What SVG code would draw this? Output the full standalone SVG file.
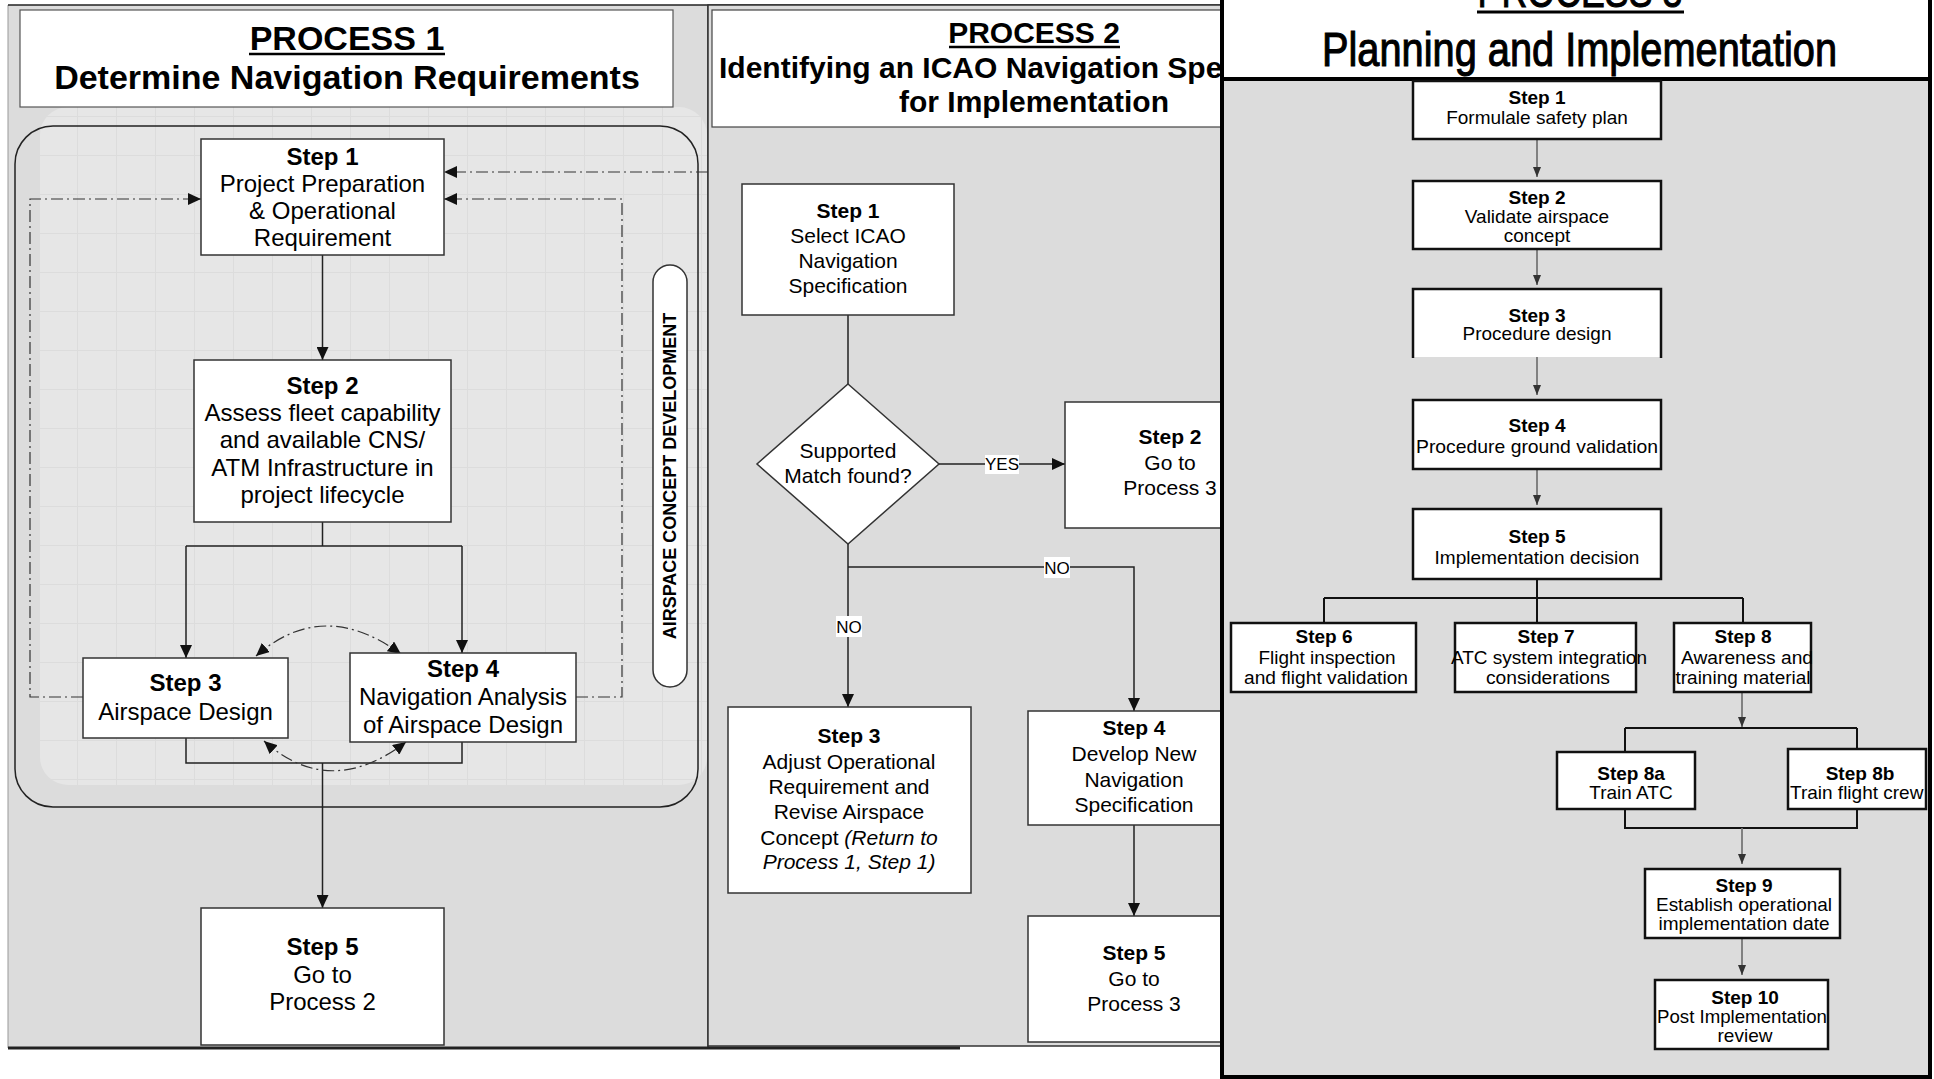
<svg xmlns="http://www.w3.org/2000/svg" width="1934" height="1079" viewBox="0 0 1934 1079">
<defs>
<style>
.t1{font-family:"Liberation Sans",Arial,sans-serif;font-size:24px;fill:#000;text-anchor:middle}
.t2{font-family:"Liberation Sans",Arial,sans-serif;font-size:21px;fill:#000;text-anchor:middle}
.t3{font-family:"Liberation Sans",Arial,sans-serif;font-size:19px;fill:#000;text-anchor:middle}
.s{font-size:17.5px}
.b{font-weight:bold}
.i{font-style:italic}
.lbl{font-family:"Liberation Sans",Arial,sans-serif;font-size:17px;fill:#000;text-anchor:middle}
.box1{fill:#fff;stroke:#333;stroke-width:1.5}
.box3{fill:#fff;stroke:#111;stroke-width:2.5}
.ln{fill:none;stroke:#222;stroke-width:1.5}
.dd{fill:none;stroke:#333;stroke-width:1.2;stroke-dasharray:12 4 2 4}
.gl{fill:none;stroke:#777;stroke-width:1.8}
.bl{fill:none;stroke:#111;stroke-width:2}
</style>
<marker id="ah" viewBox="0 0 13 12" refX="13" refY="6" markerWidth="13" markerHeight="12" markerUnits="userSpaceOnUse" orient="auto-start-reverse"><path d="M0,0 L13,6 L0,12 z" fill="#111"/></marker>
<marker id="as" viewBox="0 0 10 8" refX="10" refY="4" markerWidth="10" markerHeight="8" markerUnits="userSpaceOnUse" orient="auto"><path d="M0,0 L10,4 L0,8 z" fill="#333"/></marker>
<pattern id="grid" width="39" height="39" patternUnits="userSpaceOnUse"><rect width="39" height="39" fill="#e6e6e6"/><path d="M38.5 0 V39 M0 38.5 H39" stroke="#dcdcdc" stroke-width="1"/></pattern>
</defs>

<rect x="0" y="0" width="1934" height="1079" fill="#fff"/>

<!-- Process 1 panel -->
<g id="process1-panel">
<rect x="8" y="5" width="700" height="1043" fill="#dcdcdc"/>
<line x1="8" y1="5" x2="8" y2="1048" stroke="#999" stroke-width="1"/>
<line x1="8" y1="5" x2="1222" y2="5" stroke="#222" stroke-width="1.5"/>
<line x1="708" y1="5" x2="708" y2="1048" stroke="#333" stroke-width="1.5"/>
<rect x="40" y="107" width="667" height="678" rx="28" fill="url(#grid)"/>
<rect x="20" y="10" width="653" height="97" fill="#fff" stroke="#555" stroke-width="1.2"/>
<text class="t1 b" x="347" y="50" style="font-size:34px">PROCESS 1</text>
<line x1="249" y1="54" x2="445" y2="54" stroke="#000" stroke-width="2.5"/>
<text class="t1 b" x="347" y="89" style="font-size:34px">Determine Navigation Requirements</text>
<rect x="15" y="126" width="683" height="681" rx="38" fill="none" stroke="#222" stroke-width="1.5"/>
</g>

<g id="airspace-concept-label">
<rect x="653" y="265" width="34" height="422" rx="17" fill="#fff" stroke="#333" stroke-width="1.5"/>
<text class="t1 b" transform="translate(676,476) rotate(-90)" style="font-size:18px">AIRSPACE CONCEPT DEVELOPMENT</text>
</g>

<!-- Process 2 panel -->
<g id="process2-panel">
<rect x="708" y="5" width="514" height="1041" fill="#dcdcdc" stroke="#333" stroke-width="1.5"/>
<rect x="712" y="10" width="512" height="117" fill="#fff" stroke="#444" stroke-width="1.2"/>
<text class="t2 b" x="1034" y="43" style="font-size:30px">PROCESS 2</text>
<line x1="949" y1="47" x2="1120" y2="47" stroke="#000" stroke-width="2.5"/>
<text class="t2 b" x="719" y="78" style="font-size:30px;text-anchor:start">Identifying an ICAO Navigation Spe</text>
<text class="t2 b" x="1034" y="112" style="font-size:30px">for Implementation</text>
</g>
<line x1="8" y1="1048" x2="960" y2="1048" stroke="#222" stroke-width="3"/>

<!-- Connectors -->
<g id="connectors">
<path class="ln" d="M322.5 255 V360" marker-end="url(#ah)"/>
<path class="ln" d="M322.5 522 V546 M186 546 H462"/>
<path class="ln" d="M186 546 V658" marker-end="url(#ah)"/>
<path class="ln" d="M462 546 V653" marker-end="url(#ah)"/>
<path class="ln" d="M186 738 V763 H462 V742"/>
<path class="ln" d="M322.5 763 V908" marker-end="url(#ah)"/>
<path class="dd" d="M83 697 H30 V199 H201" marker-end="url(#ah)"/>
<path class="dd" d="M576 697 H622 V199 H444" marker-end="url(#ah)"/>
<path class="dd" d="M708 172 H444" marker-end="url(#ah)"/>
<path class="dd" d="M256 656 Q323 597 401 654" marker-start="url(#ah)" marker-end="url(#ah)"/>
<path class="dd" d="M264 741 Q330 800 406 742" marker-start="url(#ah)" marker-end="url(#ah)"/>
<path class="ln" d="M848 315 V384"/>
<path class="ln" d="M939 464 H1065" marker-end="url(#ah)"/>
<path class="ln" d="M848 544 V707" marker-end="url(#ah)"/>
<path class="ln" d="M848 567 H1134 V711" marker-end="url(#ah)"/>
<path class="ln" d="M1134 825 V916" marker-end="url(#ah)"/>
<rect x="985" y="455" width="34" height="19" fill="#fff"/>
<text class="lbl" x="1002" y="470">YES</text>
<rect x="836" y="616" width="26" height="21" fill="#fff"/>
<text class="lbl" x="849" y="633">NO</text>
<rect x="1044" y="557" width="26" height="21" fill="#fff"/>
<text class="lbl" x="1057" y="574">NO</text>
</g>

<!-- Process 1 nodes -->
<g id="p1-step1">
<rect class="box1" x="201" y="139" width="243" height="116"/>
<text class="t1 b" x="322.5" y="165">Step 1</text>
<text class="t1" x="322.5" y="192">Project Preparation</text>
<text class="t1" x="322.5" y="219">&amp; Operational</text>
<text class="t1" x="322.5" y="246">Requirement</text>
</g>
<g id="p1-step2">
<rect class="box1" x="194" y="360" width="257" height="162"/>
<text class="t1 b" x="322.5" y="394">Step 2</text>
<text class="t1" x="322.5" y="421">Assess fleet capability</text>
<text class="t1" x="322.5" y="448">and available CNS/</text>
<text class="t1" x="322.5" y="476">ATM Infrastructure in</text>
<text class="t1" x="322.5" y="503">project lifecycle</text>
</g>
<g id="p1-step3">
<rect class="box1" x="83" y="658" width="205" height="80"/>
<text class="t1 b" x="185.5" y="691">Step 3</text>
<text class="t1" x="185.5" y="720">Airspace Design</text>
</g>
<g id="p1-step4">
<rect class="box1" x="350" y="653" width="226" height="89"/>
<text class="t1 b" x="463" y="677">Step 4</text>
<text class="t1" x="463" y="705">Navigation Analysis</text>
<text class="t1" x="463" y="733">of Airspace Design</text>
</g>
<g id="p1-step5">
<rect class="box1" x="201" y="908" width="243" height="137"/>
<text class="t1 b" x="322.5" y="955">Step 5</text>
<text class="t1" x="322.5" y="983">Go to</text>
<text class="t1" x="322.5" y="1010">Process 2</text>
</g>

<!-- Process 2 nodes -->
<g id="p2-step1">
<rect class="box1" x="742" y="184" width="212" height="131"/>
<text class="t2 b" x="848" y="218">Step 1</text>
<text class="t2" x="848" y="243">Select ICAO</text>
<text class="t2" x="848" y="268">Navigation</text>
<text class="t2" x="848" y="293">Specification</text>
</g>
<g id="p2-decision">
<path d="M848 384 L939 464 L848 544 L757 464 Z" fill="#fff" stroke="#333" stroke-width="1.5"/>
<text class="t2" x="848" y="458">Supported</text>
<text class="t2" x="848" y="483">Match found?</text>
</g>
<g id="p2-step2">
<rect class="box1" x="1065" y="402" width="170" height="126"/>
<text class="t2 b" x="1170" y="444">Step 2</text>
<text class="t2" x="1170" y="470">Go to</text>
<text class="t2" x="1170" y="495">Process 3</text>
</g>
<g id="p2-step3">
<rect class="box1" x="728" y="707" width="243" height="186"/>
<text class="t2 b" x="849" y="743">Step 3</text>
<text class="t2" x="849" y="769">Adjust Operational</text>
<text class="t2" x="849" y="794">Requirement and</text>
<text class="t2" x="849" y="819">Revise Airspace</text>
<text class="t2" x="849" y="845">Concept <tspan class="i">(Return to</tspan></text>
<text class="t2 i" x="849" y="869">Process 1, Step 1)</text>
</g>
<g id="p2-step4">
<rect class="box1" x="1028" y="711" width="210" height="114"/>
<text class="t2 b" x="1134" y="735">Step 4</text>
<text class="t2" x="1134" y="761">Develop New</text>
<text class="t2" x="1134" y="787">Navigation</text>
<text class="t2" x="1134" y="812">Specification</text>
</g>
<g id="p2-step5">
<rect class="box1" x="1028" y="916" width="210" height="126"/>
<text class="t2 b" x="1134" y="960">Step 5</text>
<text class="t2" x="1134" y="986">Go to</text>
<text class="t2" x="1134" y="1011">Process 3</text>
</g>

<!-- Process 3 panel -->
<g id="process3-panel">
<rect x="1222" y="-2" width="708" height="1079" fill="#dcdcdc" stroke="#000" stroke-width="4"/>
<rect x="1222" y="-2" width="708" height="81" fill="#fff" stroke="#000" stroke-width="4"/>
<text x="1580" y="7" style="font-family:'Liberation Sans',Arial,sans-serif;font-size:46px;text-anchor:middle;stroke:#000;stroke-width:1" textLength="205" lengthAdjust="spacingAndGlyphs">PROCESS 3</text>
<line x1="1477" y1="12" x2="1684" y2="12" stroke="#000" stroke-width="3"/>
<text x="1322" y="66" style="font-family:'Liberation Sans',Arial,sans-serif;font-size:48px;stroke:#000;stroke-width:1.1" textLength="515" lengthAdjust="spacingAndGlyphs">Planning and Implementation</text>
</g>

<g id="connectors-p3">
<path class="gl" d="M1537 139 V177" marker-end="url(#as)"/>
<path class="gl" d="M1537 249 V285" marker-end="url(#as)"/>
<path class="gl" d="M1537 357 V395" marker-end="url(#as)"/>
<path class="gl" d="M1537 469 V505" marker-end="url(#as)"/>
<path class="bl" d="M1537 579 V598 M1324 598 H1743 M1324 598 V623 M1537 598 V623 M1743 598 V623"/>
<path class="gl" d="M1742 692 V727" marker-end="url(#as)"/>
<path class="bl" d="M1625 728 H1857 M1625 728 V752 M1857 728 V749 M1625 809 V828 H1857 V809"/>
<path class="gl" d="M1742 828 V864" marker-end="url(#as)"/>
<path class="gl" d="M1742 938 V975" marker-end="url(#as)"/>
</g>

<g id="p3-step1">
<rect class="box3" x="1413" y="81" width="248" height="58"/>
<text class="t3 b" x="1537" y="104">Step 1</text>
<text class="t3" x="1537" y="124">Formulale safety plan</text>
</g>
<g id="p3-step2">
<rect class="box3" x="1413" y="181" width="248" height="68"/>
<text class="t3 b" x="1537" y="204">Step 2</text>
<text class="t3" x="1537" y="223">Validate airspace</text>
<text class="t3" x="1537" y="242">concept</text>
</g>
<g id="p3-step3">
<rect x="1413" y="289" width="248" height="68" fill="#fff"/>
<path d="M1413 358 V289 H1661 V358" fill="none" stroke="#111" stroke-width="2.5"/>
<text class="t3 b" x="1537" y="322">Step 3</text>
<text class="t3" x="1537" y="340">Procedure design</text>
</g>
<g id="p3-step4">
<rect class="box3" x="1413" y="400" width="248" height="69"/>
<text class="t3 b" x="1537" y="432">Step 4</text>
<text class="t3" x="1537" y="453" textLength="242" lengthAdjust="spacingAndGlyphs">Procedure ground validation</text>
</g>
<g id="p3-step5">
<rect class="box3" x="1413" y="509" width="248" height="70"/>
<text class="t3 b" x="1537" y="543">Step 5</text>
<text class="t3" x="1537" y="564">Implementation decision</text>
</g>
<g id="p3-step6">
<rect class="box3" x="1231" y="623" width="185" height="69"/>
<text class="t3 b" x="1324" y="643">Step 6</text>
<text class="t3 s" x="1327" y="664" textLength="137" lengthAdjust="spacingAndGlyphs">Flight inspection</text>
<text class="t3 s" x="1326" y="684" textLength="164" lengthAdjust="spacingAndGlyphs">and flight validation</text>
</g>
<g id="p3-step7">
<rect class="box3" x="1455" y="623" width="181" height="69"/>
<text class="t3 b" x="1546" y="643">Step 7</text>
<text class="t3 s" x="1549" y="664" textLength="196" lengthAdjust="spacingAndGlyphs">ATC system integration</text>
<text class="t3 s" x="1548" y="684" textLength="124" lengthAdjust="spacingAndGlyphs">considerations</text>
</g>
<g id="p3-step8">
<rect class="box3" x="1674" y="623" width="137" height="69"/>
<text class="t3 b" x="1743" y="643">Step 8</text>
<text class="t3 s" x="1747" y="664" textLength="132" lengthAdjust="spacingAndGlyphs">Awareness and</text>
<text class="t3 s" x="1743" y="684" textLength="135" lengthAdjust="spacingAndGlyphs">training material</text>
</g>
<g id="p3-step8a">
<rect class="box3" x="1557" y="752" width="138" height="57"/>
<text class="t3 b" x="1631" y="780">Step 8a</text>
<text class="t3" x="1631" y="799">Train ATC</text>
</g>
<g id="p3-step8b">
<rect class="box3" x="1788" y="749" width="138" height="60"/>
<text class="t3 b" x="1860" y="780">Step 8b</text>
<text class="t3" x="1790" y="799" style="text-anchor:start">Train flight crew</text>
</g>
<g id="p3-step9">
<rect class="box3" x="1645" y="869" width="195" height="69"/>
<text class="t3 b" x="1744" y="892">Step 9</text>
<text class="t3" x="1744" y="911" textLength="176" lengthAdjust="spacingAndGlyphs">Establish operational</text>
<text class="t3" x="1744" y="930">implementation date</text>
</g>
<g id="p3-step10">
<rect class="box3" x="1655" y="980" width="173" height="69"/>
<text class="t3 b" x="1745" y="1004">Step 10</text>
<text class="t3" x="1742" y="1023" textLength="170" lengthAdjust="spacingAndGlyphs">Post Implementation</text>
<text class="t3" x="1745" y="1042">review</text>
</g>
</svg>
